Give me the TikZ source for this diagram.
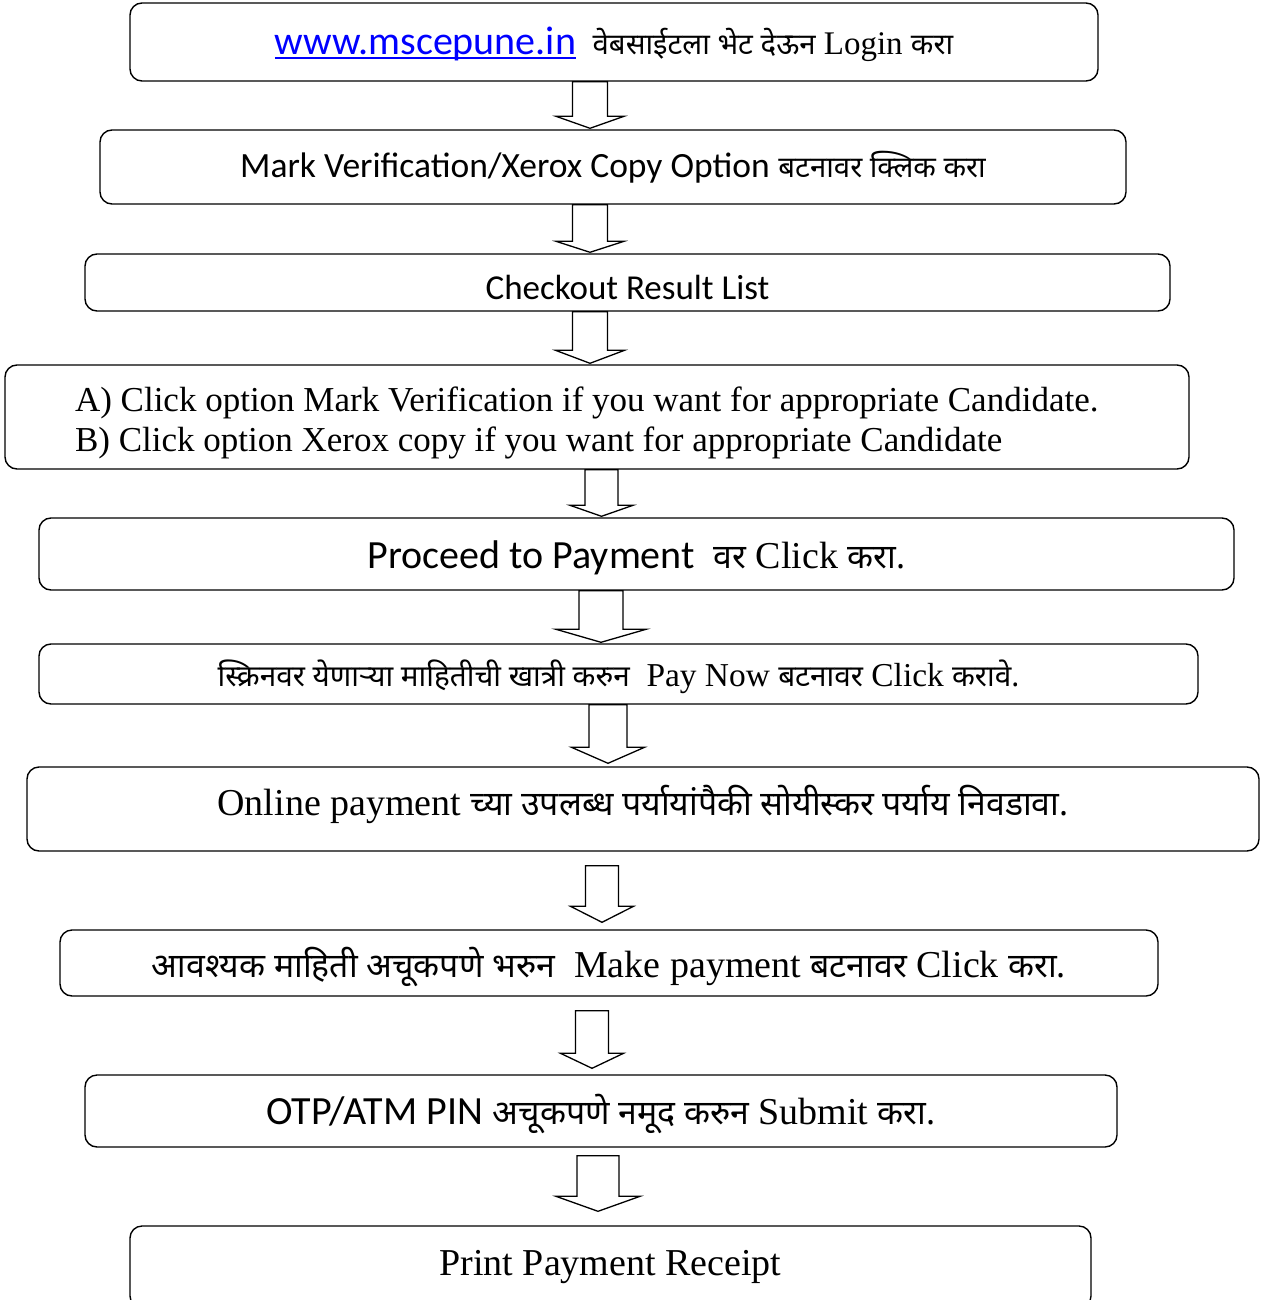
\documentclass[tikz,border=0pt]{standalone}
\usepackage{fontspec}
\usepackage{xcolor}
\usetikzlibrary{calc}
\setmainfont{Liberation Serif}
\newfontfamily\sanf{Carlito}
\newfontfamily\deva[Script=Devanagari,Scale=0.89]{Noto Sans}
\newcommand{\dv}[1]{{\deva #1}}
\newcommand{\fs}[1]{\fontsize{#1}{#1}\selectfont}
\newcommand{\ulink}[1]{\setbox0\hbox{#1}\rlap{\raisebox{-5pt}{\rule{\wd0}{1.8pt}}}\box0}
\newcommand{\shiftdown}[2]{\raisebox{-#1}[\height][\depth]{#2}}
\definecolor{linkblue}{RGB}{0,0,255}
\tikzset{
    stepbox/.style = {draw, rectangle, rounded corners=12pt, line width=1.4pt, inner sep=0pt, align=center},
    hollow/.style = {draw, line width=1.3pt, line join=miter},
}
% from, to, x, top gap, tip gap, half shaft, half head, head length
\newcommand{\hollowarrow}[8]{%
    \coordinate (ax) at (#3,0);
    \coordinate (top) at ($(#1.south -| ax)+(0,#4)$);
    \coordinate (tip) at ($(#2.north -| ax)+(0,-#5)$);
    \draw[hollow] ($(top)+(-#6,0)$) -- ($(tip)+(-#6,-#8)$) -- ($(tip)+(-#7,-#8)$) -- (tip)
        -- ($(tip)+(#7,-#8)$) -- ($(tip)+(#6,-#8)$) -- ($(top)+(#6,0)$) -- cycle;
}

\begin{document}
\begin{tikzpicture}[x=1pt, y=-1pt]
\useasboundingbox (0,0) rectangle (1270,1300);

\node[stepbox, minimum width=968pt, minimum height=78pt, font=\fs{33}] (login) at (614,42)
    {\shiftdown{2pt}{{\sanf\fs{40}\color{linkblue}\ulink{www.mscepune.in}}\ \ \dv{वेबसाईटला भेट देऊन} Login \dv{करा}}};
\node[stepbox, minimum width=1026pt, minimum height=74pt, font=\fs{35}] (option) at (613,167)
    {{\sanf\fs{35.5}Mark Verification/Xerox Copy Option} \dv{\fs{33}बटनावर क्लिक करा}};
\node[stepbox, minimum width=1085pt, minimum height=57pt, font=\fs{35}] (result) at (627.5,282.5)
    {\shiftdown{5pt}{\sanf Checkout Result List}};
\node[stepbox, minimum width=1184pt, minimum height=104pt, text width=1044pt, inner xsep=70pt, align=left,
    text height=30pt, text depth=42pt, font=\fontsize{35}{40}\selectfont] (choice) at (597,417)
    {\spaceskip=0pt\xspaceskip=0pt\hyphenpenalty=10000
     A) Click option Mark Verification if you want for appropriate Candidate.\\
     B) Click option Xerox copy if you want for appropriate Candidate};
\node[stepbox, minimum width=1195pt, minimum height=72pt, font=\fs{38}] (proceed) at (636.5,554)
    {\shiftdown{4pt}{{\sanf\fs{40}Proceed to Payment}\ \ \dv{वर} Click \dv{करा.}}};
\node[stepbox, minimum width=1159pt, minimum height=60pt, font=\fs{33.4}] (paynow) at (618.5,674)
    {\shiftdown{3pt}{\dv{स्क्रिनवर येणाऱ्या माहितीची खात्री करुन}\ \ Pay Now \dv{बटनावर} Click \dv{करावे.}}};
\node[stepbox, minimum width=1232pt, minimum height=84pt, font=\fs{38}] (online) at (643,809)
    {\shiftdown{-5pt}{Online payment \dv{च्या उपलब्ध पर्यायांपैकी सोयीस्कर पर्याय निवडावा.}}};
\node[stepbox, minimum width=1098pt, minimum height=66pt, font=\fs{38}] (make) at (609,963)
    {\shiftdown{4pt}{\dv{आवश्यक माहिती अचूकपणे भरुन}\ \ Make payment \dv{बटनावर} Click \dv{करा.}}};
\node[stepbox, minimum width=1032pt, minimum height=72pt, font=\fs{38}] (otp) at (601,1111)
    {\shiftdown{3pt}{{\sanf\fs{40}OTP/ATM PIN} \dv{अचूकपणे नमूद करुन} Submit \dv{करा.}}};
\node[stepbox, minimum width=961pt, minimum height=82pt, font=\fs{38}] (receipt) at (610.5,1267)
    {Print Payment Receipt};

\hollowarrow{login}{option}{590}{0}{1}{17.5}{34}{12}
\hollowarrow{option}{result}{590}{0}{1}{17.5}{34}{11}
\hollowarrow{result}{choice}{590}{0}{1}{17.5}{34.5}{13}
\hollowarrow{choice}{proceed}{601.5}{0}{1}{16.5}{31.5}{11}
\hollowarrow{proceed}{paynow}{601}{0}{1}{22}{45}{13}
\hollowarrow{paynow}{online}{608}{0}{3}{19}{36.5}{16}
\hollowarrow{online}{make}{602}{14}{7}{16.5}{31.5}{16}
\hollowarrow{make}{otp}{592}{14}{6}{16.5}{31.5}{15}
\hollowarrow{otp}{receipt}{598}{8}{14}{21}{42}{15}
\end{tikzpicture}
\end{document}
